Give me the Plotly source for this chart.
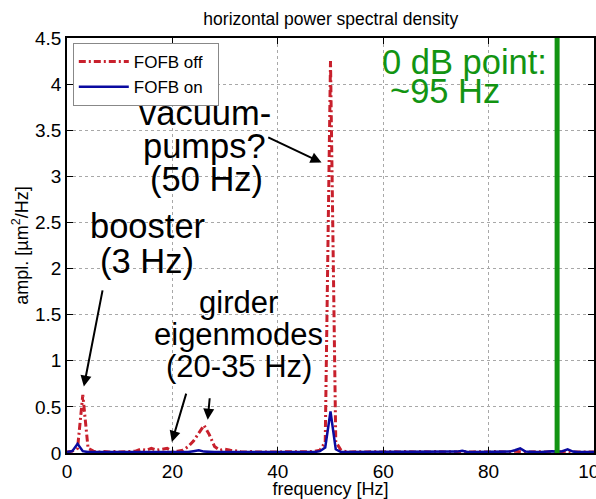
import plotly.graph_objects as go

# Frequency bins (Hz), 1 Hz resolution
freq_hz = list(range(0, 101))

# Horizontal PSD with fast orbit feedback switched off [um^2/Hz]
psd_fofb_off = [
    0.01, 0.02, 0.05, 0.63, 0.05, 0.02, 0.01, 0.015, 0.01, 0.015,   # 0-9
    0.01, 0.015, 0.02, 0.02, 0.04, 0.03, 0.05, 0.03, 0.04, 0.05,    # 10-19
    0.02, 0.02, 0.03, 0.07, 0.13, 0.22, 0.30, 0.20, 0.07, 0.03,     # 20-29
    0.04, 0.03, 0.02, 0.015, 0.01, 0.015, 0.01, 0.01, 0.015, 0.01,  # 30-39
    0.01, 0.015, 0.01, 0.01, 0.015, 0.01, 0.015, 0.02, 0.03, 0.12,  # 40-49
    4.25, 0.12, 0.03, 0.015, 0.01, 0.015, 0.01, 0.01, 0.015, 0.01,  # 50-59
    0.01, 0.015, 0.01, 0.01, 0.015, 0.01, 0.01, 0.015, 0.01, 0.01,  # 60-69
    0.015, 0.01, 0.01, 0.015, 0.01, 0.015, 0.01, 0.01, 0.015, 0.01, # 70-79
    0.01, 0.015, 0.01, 0.01, 0.015, 0.02, 0.015, 0.01, 0.01, 0.015, # 80-89
    0.01, 0.01, 0.015, 0.01, 0.015, 0.02, 0.01, 0.01, 0.015, 0.01,  # 90-99
    0.01,                                                           # 100
]

# Horizontal PSD with fast orbit feedback switched on [um^2/Hz]
psd_fofb_on = [
    0.01, 0.02, 0.10, 0.02, 0.01, 0.01, 0.01, 0.01, 0.01, 0.01,     # 0-9
    0.01, 0.01, 0.01, 0.01, 0.01, 0.01, 0.01, 0.01, 0.01, 0.01,     # 10-19
    0.01, 0.01, 0.01, 0.01, 0.02, 0.03, 0.015, 0.01, 0.01, 0.01,    # 20-29
    0.01, 0.01, 0.01, 0.01, 0.01, 0.01, 0.01, 0.01, 0.01, 0.01,     # 30-39
    0.01, 0.01, 0.01, 0.01, 0.01, 0.01, 0.01, 0.01, 0.02, 0.06,     # 40-49
    0.45, 0.04, 0.01, 0.01, 0.01, 0.01, 0.01, 0.01, 0.01, 0.01,     # 50-59
    0.01, 0.01, 0.01, 0.01, 0.01, 0.01, 0.01, 0.01, 0.01, 0.01,     # 60-69
    0.01, 0.01, 0.01, 0.01, 0.015, 0.025, 0.01, 0.01, 0.01, 0.01,   # 70-79
    0.01, 0.01, 0.01, 0.01, 0.015, 0.03, 0.05, 0.015, 0.01, 0.01,   # 80-89
    0.01, 0.015, 0.02, 0.015, 0.02, 0.04, 0.015, 0.01, 0.01, 0.01,  # 90-99
    0.01,                                                           # 100
]

# Closed-loop 0 dB crossing of the feedback
zero_db_hz = [93, 93]
zero_db_amp = [0, 4.5]

x_ticks = [0, 20, 40, 60, 80, 100]
y_ticks = [0, 0.5, 1, 1.5, 2, 2.5, 3, 3.5, 4, 4.5]

FONT = "Liberation Sans, Arial, Helvetica, sans-serif"
RED = "#c8202c"
BLUE = "#0a0aa0"
GREEN = "#129412"
NBSP = "\u00a0"

fig = go.Figure()
fig.add_trace(go.Scatter(
    x=freq_hz, y=psd_fofb_off, mode="lines", name="FOFB off" + NBSP * 2,
    line=dict(color=RED, width=3, dash="7px,3px,2px,3px"),
))
fig.add_trace(go.Scatter(
    x=freq_hz, y=psd_fofb_on, mode="lines", name="FOFB on",
    line=dict(color=BLUE, width=2.5),
))
fig.add_trace(go.Scatter(
    x=zero_db_hz, y=zero_db_amp, mode="lines", showlegend=False,
    line=dict(color=GREEN, width=5),
))

ann = []

def label(text, x, y, size, color="black"):
    ann.append(dict(text=text, x=x, y=y, xref="x", yref="y", showarrow=False,
                    xanchor="center", yanchor="middle",
                    font=dict(family=FONT, size=size, color=color)))

def arrow(x0, y0, x1, y1):
    ann.append(dict(text="", x=x1, y=y1, ax=x0, ay=y0, xref="x", yref="y",
                    axref="x", ayref="y", showarrow=True, arrowhead=2,
                    arrowsize=1.1, arrowwidth=2, arrowcolor="black"))

label("vacuum-", 26.1, 3.69, 34.5)
label("pumps?", 26.1, 3.33, 34.5)
label("(50 Hz)", 26.4, 2.97, 34.5)
arrow(37.9, 3.43, 48.3, 3.15)

label("booster", 15.3, 2.46, 34.5)
label("(3 Hz)", 15.2, 2.08, 34.5)
arrow(6.8, 1.78, 3.2, 0.72)

label("girder", 32.6, 1.63, 31)
label("eigenmodes", 32.6, 1.28, 31)
label("(20-35 Hz)", 32.6, 0.94, 31)
arrow(22.7, 0.66, 19.9, 0.12)
arrow(27.1, 0.61, 26.7, 0.36)

label("0 dB point:", 75.4, 4.24, 34.5, GREEN)
label("~95 Hz", 71.8, 3.93, 34.5, GREEN)

axis_common = dict(
    showline=True, linecolor="black", linewidth=1.5, mirror="allticks",
    ticks="inside", ticklen=6, tickcolor="black",
    showgrid=True, gridcolor="#a8a8a8", gridwidth=1, griddash="dot",
    zeroline=False, tickfont=dict(family=FONT, size=19, color="black"),
    ticklabeloverflow="allow", automargin=False,
)

fig.update_layout(
    width=596, height=499,
    margin=dict(l=67, r=2, t=38, b=46),
    paper_bgcolor="white", plot_bgcolor="white",
    title=dict(text="horizontal power spectral density", x=0.555, xanchor="center",
               y=0.963, yanchor="middle",
               font=dict(family=FONT, size=17.5, color="black")),
    xaxis=dict(range=[0, 100], tickvals=x_ticks,
               title=dict(text="frequency [Hz]", standoff=0,
                          font=dict(family=FONT, size=18, color="black")),
               **axis_common),
    yaxis=dict(range=[0, 4.5], tickvals=y_ticks,
               title=dict(text="ampl. [µm<sup>2</sup>/Hz]", standoff=2,
                          font=dict(family=FONT, size=18, color="black")),
               **axis_common),
    legend=dict(x=0.011, y=0.988, xanchor="left", yanchor="top",
                bgcolor="white", bordercolor="#888888", borderwidth=1,
                font=dict(family=FONT, size=17, color="black"),
                itemwidth=50, tracegroupgap=0),
    annotations=ann,
    showlegend=True,
)

fig.write_html("out.html")
